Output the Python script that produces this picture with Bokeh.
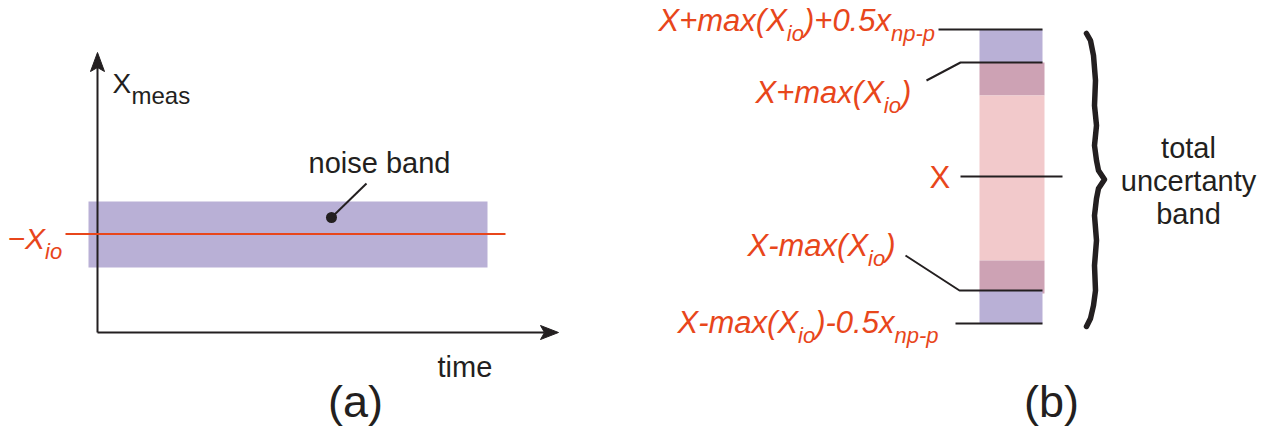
from bokeh.plotting import figure
from bokeh.models import Range1d
from bokeh.core.properties import value
from bokeh.embed import file_html
from bokeh.resources import INLINE

# ---------------- data (schematic levels, diagram units) ----------------
# Panel (a): measured signal vs time
a_axis_x = 97                 # time origin
a_axis_y = 332                # X_meas origin
a_axis_top = 52               # arrow tip of X_meas axis
a_axis_right = 558            # arrow tip of time axis
a_band_t = [88, 487]          # noise band extent in time
a_band_lvl = [201, 267]       # noise band upper / lower level
a_xio_lvl = 233.5             # -X_io level
a_xio_t = [65, 505]
a_pointer_x = [331, 366]
a_pointer_y = [217, 183]

# Panel (b): uncertainty band levels
b_bar_x = [979, 1042]
b_levels = [29, 62, 95, 176, 260, 290, 323]   # top .. bottom
b_region_names = ["npp_hi", "xio_hi", "inner", "xio_lo", "npp_lo"]
b_region_top = [29, 62, 95, 260, 290]
b_region_bot = [62, 95, 260, 293, 323]
b_region_colors = ["#b9b0d6", "#cda2b4", "#f2c9cb", "#cda2b4", "#b9b0d6"]
b_region_right = [1042, 1044, 1044, 1044, 1042]

ORANGE = "#e8461b"
BLACK = "#231f20"
FONT = "Liberation Sans"
BASE_FIX = 0.32   # renderer places alphabetic text ~0.32 em low; compensate

# Arial / Liberation Sans advance widths (per em)
W = {"X": .667, "+": .584, "m": .833, "a": .556, "x": .5, "(": .333, ")": .333,
     "i": .222, "o": .556, "0": .556, ".": .278, "5": .556, "n": .556,
     "p": .556, "-": .333, "\u2212": .584}

p = figure(width=1271, height=427, output_backend="svg", toolbar_location=None,
           x_range=Range1d(0, 1271), y_range=Range1d(427, 0),
           min_border=0, x_axis_location=None, y_axis_location=None)
p.grid.visible = False
p.outline_line_color = None
p.background_fill_color = "white"
p.border_fill_color = "white"


def rich(x, y, pieces, color, style="italic"):
    for txt, size, dy in pieces:
        p.text(x=[x], y=[y + dy - BASE_FIX * size], text=[txt], text_font=value(FONT),
               text_font_size=value(f"{size}px"), text_font_style=style,
               text_color=color, text_baseline="alphabetic", text_align="left")
        x += sum(W.get(c, .556) for c in txt) * size


def plain(x, y, txt, size, align="left", color=BLACK):
    p.text(x=[x], y=[y - BASE_FIX * size], text=[txt], text_font=value(FONT),
           text_font_size=value(f"{size}px"), text_color=color,
           text_baseline="alphabetic", text_align=align)


# ---------------- panel (a) ----------------
p.quad(left=[a_band_t[0]], right=[a_band_t[1]], top=[a_band_lvl[0]],
       bottom=[a_band_lvl[1]], fill_color="#b9b0d6", line_color=None)
# axes
p.line([a_axis_x, a_axis_x], [a_axis_y, a_axis_top + 14], line_color=BLACK, line_width=2)
p.line([a_axis_x, a_axis_right - 14], [a_axis_y, a_axis_y], line_color=BLACK, line_width=2)
p.patch([a_axis_x, a_axis_x - 7, a_axis_x, a_axis_x + 7],
        [a_axis_top, a_axis_top + 19, a_axis_top + 15, a_axis_top + 19],
        fill_color=BLACK, line_color=BLACK, line_width=1)
p.patch([a_axis_right, a_axis_right - 18, a_axis_right - 14, a_axis_right - 18],
        [a_axis_y, a_axis_y - 7, a_axis_y, a_axis_y + 7],
        fill_color=BLACK, line_color=BLACK, line_width=1)
# -X_io line
p.line(a_xio_t, [a_xio_lvl, a_xio_lvl], line_color=ORANGE, line_width=2)
# pointer
p.line(a_pointer_x, a_pointer_y, line_color=BLACK, line_width=2)
p.scatter([a_pointer_x[0]], [a_pointer_y[0]], size=11, marker="circle",
          fill_color=BLACK, line_color=None)
# texts
plain(112, 92, "X", 28)
plain(131, 103, "meas", 24)
plain(308, 172, "noise band", 29)
plain(437, 376, "time", 29)
plain(355, 415, "(a)", 45, align="center")
rich(7, 248, [("\u2212X", 30, 0), ("io", 22, 10)], ORANGE)

# ---------------- panel (b) ----------------
p.quad(left=[b_bar_x[0]] * 5, right=b_region_right, top=b_region_top,
       bottom=b_region_bot, fill_color=b_region_colors, line_color=None)

lw = 2
p.line([938, b_bar_x[1]], [b_levels[0], b_levels[0]], line_color=BLACK, line_width=lw)
p.line([926, 960, b_bar_x[1]], [80, b_levels[1], b_levels[1]], line_color=BLACK, line_width=lw)
p.line([960, 1062], [b_levels[3], b_levels[3]], line_color=BLACK, line_width=lw)
p.line([905, 959, b_bar_x[1]], [255, b_levels[5], b_levels[5]], line_color=BLACK, line_width=lw)
p.line([955, b_bar_x[1]], [b_levels[6], b_levels[6]], line_color=BLACK, line_width=lw)

# curly brace
brace_x = [1086, 1090, 1093, 1095, 1094, 1096, 1094, 1096, 1098, 1104,
           1098, 1096, 1094, 1096, 1094, 1095, 1093, 1090, 1086]
brace_y = [33, 40, 55, 80, 105, 125, 145, 160, 170, 179,
           188, 198, 215, 240, 265, 290, 305, 318, 326]
p.line(brace_x, brace_y, line_color=BLACK, line_width=5.5, line_cap="round",
       line_join="round")

rich(658, 30, [("X+max(X", 31, 0), ("io", 22, 10), (")+0.5x", 31, 0), ("np-p", 22, 10)], ORANGE)
rich(755, 102, [("X+max(X", 31, 0), ("io", 22, 10), (")", 31, 0)], ORANGE)
rich(929, 187, [("X", 31, 0)], ORANGE, style="normal")
rich(747, 255, [("X-max(X", 31, 0), ("io", 22, 10), (")", 31, 0)], ORANGE)
rich(677, 332, [("X-max(X", 31, 0), ("io", 22, 10), (")-0.5x", 31, 0), ("np-p", 22, 10)], ORANGE)

plain(1188, 157, "total", 29, align="center")
plain(1188, 190, "uncertanty", 29, align="center")
plain(1188, 223, "band", 29, align="center")
plain(1051, 415, "(b)", 45, align="center")

open("out.html", "w").write(file_html(p, INLINE))
